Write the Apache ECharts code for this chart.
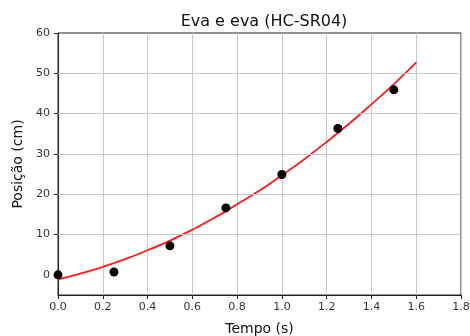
<!DOCTYPE html>
<html><head><meta charset="utf-8">
<script src="https://cdn.jsdelivr.net/npm/echarts@6/dist/echarts.min.js"></script>
<style>html,body{margin:0;padding:0;background:#fff}#c{width:470px;height:336px}</style>
</head><body><div id="c"></div>
<script>
const measT = [0, 0.25, 0.5, 0.75, 1.0, 1.25, 1.5];
const measY = [0, 0.7, 7.2, 16.6, 24.9, 36.3, 45.9];
const fitT = [0,0.1,0.2,0.3,0.4,0.5,0.6,0.7,0.8,0.9,1.0,1.1,1.2,1.3,1.4,1.5,1.6];
const fitY = [-1.1,0.3,2.0,3.9,6.1,8.5,11.2,14.2,17.5,20.9,24.7,28.7,33.0,37.5,42.3,47.3,52.7];
const yTicks = [0,10,20,30,40,50,60];
const title = 'Eva e eva (HC-SR04)';
const xName = 'Tempo (s)';
const yName = 'Posição (cm)';

const font = 'DejaVu Sans';
const chart = echarts.init(document.getElementById('c'));
chart.setOption({
  animation: false,
  title: {text: title, left: 259, textAlign: 'center', top: 9,
    textStyle: {fontFamily: font, fontSize: 16, fontWeight: 'normal', color: '#111'}},
  grid: {left: 58, right: 9, top: 33, bottom: 41, show: true, borderColor: '#222', borderWidth: 1,
    containLabel: false, outerBoundsMode: 'none'},
  xAxis: {type: 'value', min: 0, max: 1.8, interval: 0.2,
    name: xName, nameLocation: 'middle', nameGap: 27,
    nameTextStyle: {fontFamily: font, fontSize: 14, color: '#111'},
    axisLine: {onZero: false, lineStyle: {color: '#222'}},
    axisTick: {show: true, length: 4, lineStyle: {color: '#222'}},
    axisLabel: {fontFamily: font, fontSize: 11, color: '#333', margin: 7, formatter: v => v.toFixed(1)},
    splitLine: {show: true, lineStyle: {color: '#c8c8c8', width: 1}}},
  yAxis: {type: 'value', min: -5, max: 60, interval: 5,
    name: yName, nameLocation: 'middle', nameGap: 33,
    nameTextStyle: {fontFamily: font, fontSize: 14, color: '#111'},
    axisLine: {show: true, onZero: false, lineStyle: {color: '#222'}},
    axisTick: {show: true, length: 4, lineStyle: {color: '#222'}, customValues: yTicks},
    axisLabel: {fontFamily: font, fontSize: 11, color: '#333', margin: 8, customValues: yTicks},
    splitLine: {show: false}},
  series: [
    {type: 'line', data: [], silent: true,
      markLine: {silent: true, symbol: 'none', label: {show: false},
        lineStyle: {color: '#c8c8c8', width: 1, type: 'solid'},
        data: yTicks.slice(1, -1).map(v => ({yAxis: v}))}},
    {type: 'line', data: fitT.map((t, i) => [t, fitY[i]]), smooth: true, showSymbol: false,
      lineStyle: {color: '#ff1a1a', width: 1.8}, z: 3},
    {type: 'scatter', data: measT.map((t, i) => [t, measY[i]]), symbolSize: 9,
      itemStyle: {color: '#000', opacity: 1}, z: 4}
  ]
});
</script></body></html>
